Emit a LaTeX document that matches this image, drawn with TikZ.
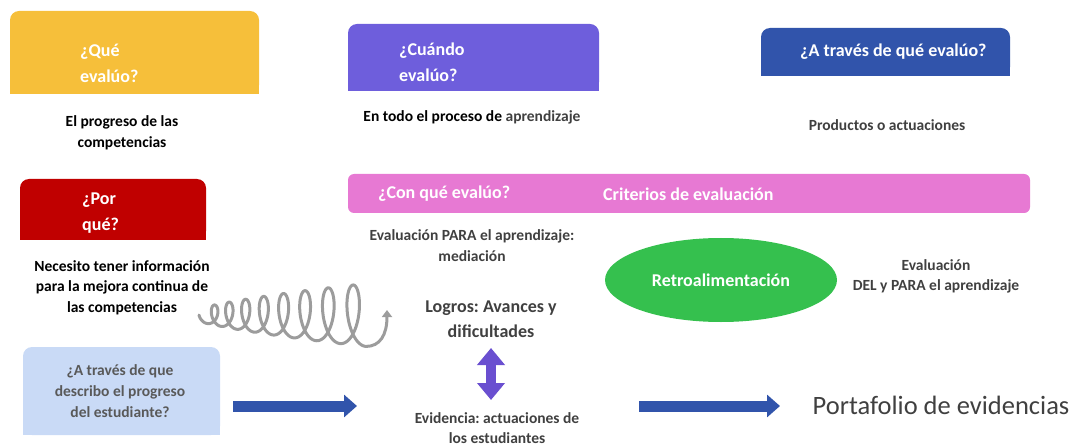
\documentclass[tikz,border=0pt]{standalone}
\usepackage{fontspec}
\setmainfont{Carlito}
\frenchspacing
\usetikzlibrary{arrows.meta,shapes.geometric}
\definecolor{cyellow}{HTML}{F6BF3A}
\definecolor{cpurple}{HTML}{6E5EDC}
\definecolor{cblue}{HTML}{3154AB}
\definecolor{cred}{HTML}{C00000}
\definecolor{cpink}{HTML}{E779D3}
\definecolor{cgreen}{HTML}{35C04E}
\definecolor{clight}{HTML}{C9DAF6}
\definecolor{cgray}{HTML}{404040}
\definecolor{cgray2}{HTML}{595959}
\definecolor{cspring}{HTML}{9C9C9C}
\definecolor{cdarrow}{HTML}{6A4FD0}
\begin{document}
\begin{tikzpicture}[x=1pt,y=-1pt,
  tabbox/.style={rectangle,rounded corners=9pt,inner sep=0pt,draw=none},
  titletext/.style={text=white,font=\bfseries\fontsize{18}{26}\selectfont,align=left,anchor=west,inner sep=0pt},
  bodytext/.style={font=\bfseries\fontsize{15.5}{20.5}\selectfont,align=center,inner sep=0pt},
  blockarrow/.style={cblue,line width=11pt,-{Triangle[length=13pt,width=22pt]}},
  dblarrow/.style={cdarrow,line width=10pt,{Triangle[length=17pt,width=27pt]}-{Triangle[length=17pt,width=27pt]}}
]
\useasboundingbox (0,0) rectangle (1075,446);

% top-rounded boxes
\node[tabbox,fill=cyellow,minimum width=249pt,minimum height=83pt] (qbox) at (134.5,52.5) {};
\fill[cyellow] (qbox.west) rectangle (qbox.south east);
\node[tabbox,fill=cpurple,minimum width=251pt,minimum height=67pt] (cbox) at (473.5,57.5) {};
\fill[cpurple] (cbox.west) rectangle (cbox.south east);
\node[tabbox,fill=cblue,minimum width=249pt,minimum height=48pt] (tbox) at (885.5,52) {};
\fill[cblue] (tbox.west) rectangle (tbox.south east);
\node[tabbox,fill=cred,minimum width=186pt,minimum height=61pt] (pbox) at (113,209.5) {};
\fill[cred] (pbox.west) rectangle (pbox.south east);
\node[tabbox,fill=clight,minimum width=197pt,minimum height=88pt] (lbox) at (121.5,391) {};
\fill[clight] (lbox.west) rectangle (lbox.south east);
\node[tabbox,rounded corners=6pt,fill=cpink,minimum width=682pt,minimum height=39pt] (pink) at (689,193.5) {};

% titles
\node[titletext] (qt) at (80,63) {¿Qué\\evalúo?};
\node[titletext] (ct) at (399,62.5) {¿Cuándo\\evalúo?};
\node[titletext] (tt) at (800,52) {¿A través de qué evalúo?};
\node[titletext] (pt) at (82,213) {¿Por\\qué?};
\node[titletext] (cq) at (378,194) {¿Con qué evalúo?};
\node[titletext] (cr) at (603,194) {Criterios de evaluación};

% body texts
\node[bodytext] (t1) at (122,133) {El progreso de las\\competencias};
\node[bodytext] (t2) at (472,117) {En todo el proceso de \textcolor{cgray}{aprendizaje}};
\node[bodytext,text=cgray] (t3) at (887,125) {Productos o actuaciones};
\node[bodytext] (t4) at (122,287.5) {Necesito tener información\\para la mejora continua de\\las competencias};
\node[bodytext,text=cgray] (t5) at (472,245.5) {Evaluación PARA el aprendizaje:\\mediación};
\node[bodytext,text=cgray] (t6) at (936,276.5) {Evaluación\\DEL y PARA el aprendizaje};
\node[bodytext,text=cgray,font=\bfseries\fontsize{18}{25}\selectfont] (logros) at (491,319.5) {Logros: Avances y\\dificultades};
\node[bodytext,text=cgray] (evid) at (497,428) {Evidencia: actuaciones de\\los estudiantes};
\node[bodytext,text=cgray2,font=\bfseries\fontsize{15.5}{21}\selectfont] (lt) at (120,391) {¿A través de que\\describo el progreso\\del estudiante?};
\node[inner sep=0pt,text=cgray,font=\fontsize{26.5}{30}\selectfont] (port) at (941,405) {Portafolio de evidencias};

% ellipse
\node[ellipse,fill=cgreen,minimum width=232pt,minimum height=84pt,inner sep=0pt,text=white,font=\bfseries\fontsize{18}{22}\selectfont] (retro) at (721,280) {Retroalimentación};

% spring
\draw[cspring,line width=3pt,line cap=round,-{Triangle[length=7pt,width=10pt]}]
  plot[domain=-0.25:8,samples=600]
  ({208+13*\x+0.85*\x*\x+(6+0.8*\x)*sin(360*\x)},{315+(8.6+2.86*\x)*cos(360*\x)})
  .. controls (380,346.5) and (387,335) .. (387,310);

% arrows
\coordinate (a1s) at (233,406);
\coordinate (a1e) at (357,406);
\coordinate (a2s) at (639,406);
\coordinate (a2e) at (780,406);
\coordinate (d1) at (491,348);
\coordinate (d2) at (491,400);
\draw[blockarrow] (a1s) -- (a1e);
\draw[blockarrow] (a2s) -- (a2e);
\draw[dblarrow] (d1) -- (d2);
\end{tikzpicture}
\end{document}
